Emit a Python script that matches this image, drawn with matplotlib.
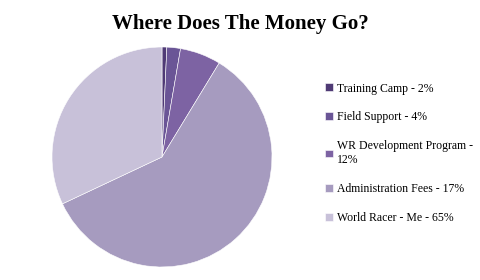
import matplotlib.pyplot as plt

# Datos (porcentajes de las porciones tal como se dibujan)
categories = ['Training Camp - 2%', 'Field Support - 4%', 'WR Development Program -\n12%',
              'Administration Fees - 17%', 'World Racer - Me - 65%']
values = [0.7, 2.0, 6.0, 59.3, 32.0]
colors = ['#4f3a75', '#6a5596', '#7d63a3', '#a69bbf', '#c8c1d9']

fig = plt.figure(figsize=(4.8, 2.8), dpi=100)
ax = fig.add_axes([52 / 480, 13 / 280, 220 / 480, 220 / 280])

ax.pie(values, colors=colors, startangle=90, counterclock=False,
       wedgeprops={'linewidth': 0.4, 'edgecolor': 'white'})
ax.set_xlim(-1, 1)
ax.set_ylim(-1, 1)
ax.set_aspect('equal')

fig.suptitle('Where Does The Money Go?', x=0.5, y=0.95, fontsize=15,
             fontweight='bold', family='Liberation Serif')

leg = ax.legend(categories, loc='upper left', bbox_to_anchor=(1.22, 0.86),
                frameon=False, prop={'family': 'Liberation Serif', 'size': 8.5},
                handlelength=0.65, handleheight=0.65, handletextpad=0.35,
                labelspacing=1.43, borderaxespad=0)

fig.savefig('out.png', dpi=100)
